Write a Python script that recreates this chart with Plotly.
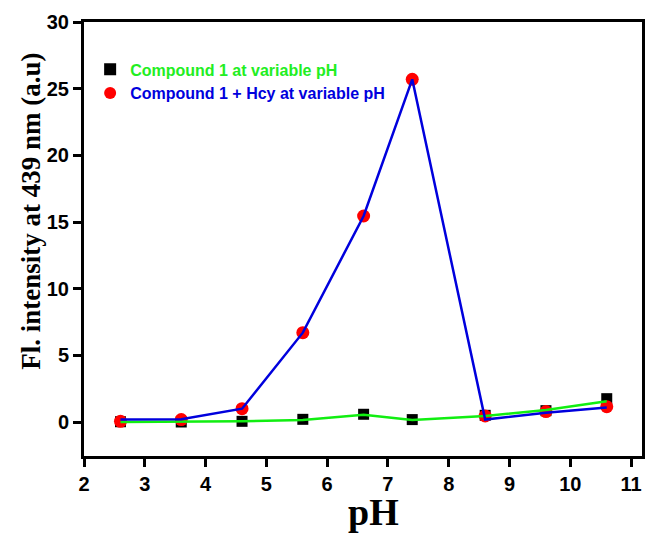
import plotly.graph_objects as go

ph = [2.6, 3.6, 4.6, 5.6, 6.6, 7.4, 8.6, 9.6, 10.6]
compound = [0.02, 0.0, 0.05, 0.2, 0.58, 0.18, 0.5, 0.85, 1.75]
compound_hcy = [0.05, 0.18, 1.0, 6.7, 15.45, 25.7, 0.45, 0.78, 1.15]
compound_line = [0.0, 0.0, 0.05, 0.15, 0.55, 0.15, 0.45, 0.9, 1.55]
hcy_line = [0.18, 0.2, 1.0, 6.7, 15.45, 25.7, 0.18, 0.7, 1.08]

fig = go.Figure()
fig.add_trace(go.Scatter(x=ph, y=compound, mode="markers",
                         marker=dict(symbol="square", size=11, color="black"),
                         name='<span style="color:#22ee22">Compound 1 at variable pH</span>'))
fig.add_trace(go.Scatter(x=ph, y=compound_hcy, mode="markers",
                         marker=dict(symbol="circle", size=13, color="#ff0000"),
                         name='<span style="color:#0000dd">Compound 1 + Hcy at variable pH</span>'))
fig.add_trace(go.Scatter(x=ph, y=compound_line, mode="lines",
                         line=dict(color="#11ee11", width=2.5), showlegend=False))
fig.add_trace(go.Scatter(x=ph, y=hcy_line, mode="lines",
                         line=dict(color="#0000dd", width=2.5), showlegend=False))

axis_common = dict(showline=True, linewidth=3, linecolor="black", mirror=True,
                   ticks="outside", ticklen=8, tickwidth=3, tickcolor="black",
                   showgrid=False, zeroline=False,
                   tickfont=dict(family="Liberation Sans, Arial", size=20, color="black", weight="bold"))

fig.update_xaxes(range=[2, 11.18], tickvals=list(range(2, 12)), **axis_common)
fig.update_yaxes(range=[-2.55, 30], tickvals=[0, 5, 10, 15, 20, 25, 30], **axis_common)

fig.add_annotation(text="<b>Fl. intensity at 439 nm (a.u)</b>", xref="paper", yref="paper",
                   x=-0.095, y=0.565, xanchor="center", yanchor="middle", textangle=-90,
                   showarrow=False,
                   font=dict(family="Liberation Serif, Times New Roman", size=27, color="black"))

fig.add_annotation(text="<b>pH</b>", xref="paper", yref="paper", x=0.519, y=-0.13,
                   xanchor="center", yanchor="middle", showarrow=False,
                   font=dict(family="Liberation Serif, Times New Roman", size=38, color="black"))

fig.update_layout(
    width=650, height=533,
    margin=dict(l=84, r=5, t=22, b=77),
    plot_bgcolor="white", paper_bgcolor="white",
    legend=dict(x=0.011, y=0.93, xanchor="left", yanchor="top",
                font=dict(family="Liberation Sans, Arial", size=16, weight="bold"),
                bgcolor="rgba(0,0,0,0)", tracegroupgap=0, itemsizing="constant"),
)

fig.write_html("out.html")
